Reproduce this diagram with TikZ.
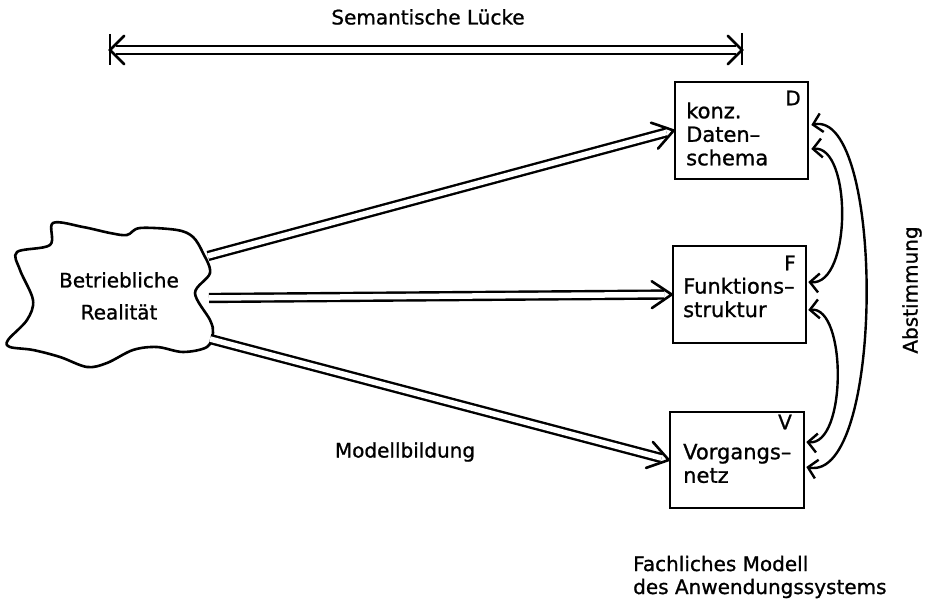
\documentclass[tikz,border=0pt]{standalone}
\usepackage{fontspec}
\setmainfont{DejaVu Sans}[BoldFont={DejaVu Sans}, BoldFeatures={FakeBold=1.0}]
\usetikzlibrary{arrows.meta,calc}
\begin{document}
\begin{tikzpicture}[x=1pt,y=1pt,
  every node/.style={font=\fontsize{20}{23}\selectfont\bfseries, inner sep=0pt},
  boxtext/.style={anchor=west, align=left, font=\fontsize{21}{23.5}\selectfont\bfseries},
  box/.style={draw, line width=2.6pt, minimum width=133pt, minimum height=97pt},
  dbl/.style={draw, line width=2.4pt, double, double distance=5.5pt},
  chev/.style={draw, line width=2.6pt, line join=miter, line cap=round},
  bidir/.style={draw, line width=2.4pt, {Straight Barb[length=9pt,width=19pt]}-{Straight Barb[length=9pt,width=19pt]}},
  outline/.style={draw, line width=2.6pt}]
\useasboundingbox (0,0) rectangle (931,601);

% title and span arrow
\node (title) at (428,584) {Semantische Lücke};
\coordinate (L) at (110,551);
\coordinate (R) at (742,551);
\draw[dbl, shorten >=6pt, shorten <=6pt] (L) -- (R);
\draw[chev] ($(L)!20pt!45:(R)$) -- (L) -- ($(L)!20pt!-45:(R)$);
\draw[chev] ($(R)!20pt!45:(L)$) -- (R) -- ($(R)!20pt!-45:(L)$);
\draw[outline] ($(L)+(0,16)$) -- ($(L)+(0,-15)$);
\draw[outline] ($(R)+(0,17)$) -- ($(R)+(0,-15)$);

% boxes
\node[box] (D) at (741.5,470.5) {};
\node[box] (F) at (739.5,306.5) {};
\node[box, minimum width=134pt, minimum height=96pt] (V) at (737,141) {};
\node[boxtext] (Dt) at (686,467) {konz.\\Daten–\\schema};
\node[boxtext] (Ft) at (683,303.5) {Funktions–\\struktur};
\node[boxtext] (Vt) at (683,137.5) {Vorgangs–\\netz};
\node (Dlab) at (793,503) {D};
\node (Flab) at (790,338) {F};
\node (Vlab) at (785,179) {V};

% cloud
\draw[outline] plot[smooth cycle, tension=0.55] coordinates {
 (17,349) (50,356) (53,378) (83,374) (110,368) (127,366) (140,373) (177,371)
 (193,364) (203,348) (210,328) (195,308) (210,281) (213,268) (207,254)
 (183,249) (157,254) (133,251) (107,238) (87,234) (60,244) (33,251)
 (10,254) (8,261) (27,281) (33,301) (20,331)};
\node[align=center, font=\fontsize{20}{32}\selectfont\bfseries] (cloud) at (119,305) {Betriebliche\\Realität};
\coordinate (c1) at (208,345);
\coordinate (c2) at (209,303);
\coordinate (c3) at (210,262);

% modelling arrows
\draw[dbl, shorten >=7.5pt] (c1) -- (D.west);
\draw[chev] ($(D.west)!24pt!34:(c1)$) -- (D.west) -- ($(D.west)!24pt!-34:(c1)$);
\draw[dbl, shorten >=7.5pt] (c2) -- (F.west);
\draw[chev] ($(F.west)!24pt!34:(c2)$) -- (F.west) -- ($(F.west)!24pt!-34:(c2)$);
\draw[dbl, shorten >=7.5pt] (c3) -- (V.west);
\draw[chev] ($(V.west)!24pt!34:(c3)$) -- (V.west) -- ($(V.west)!24pt!-34:(c3)$);
\node (mb) at (405,149) {Modellbildung};

% coordination arrows
\coordinate (Du) at ($(D.east)+(2,5.5)$);
\coordinate (Dd) at ($(D.east)+(2,-18.5)$);
\coordinate (Fu) at ($(F.east)+(1,12.5)$);
\coordinate (Fd) at ($(F.east)+(1,-15.5)$);
\coordinate (Vu) at ($(V.east)+(1,18)$);
\coordinate (Vd) at ($(V.east)+(1,-7)$);
\draw[bidir] (Du) .. controls (885,492) and (885,118) .. (Vd);
\draw[bidir] (Dd) .. controls (852,456) and (852,315) .. (Fu);
\draw[bidir] (Fd) .. controls (847,295) and (847,155) .. (Vu);
\node[rotate=90] (abst) at (912,311) {Abstimmung};

% caption
\node[anchor=west, align=left] (fm) at (633,24) {Fachliches Modell\\des Anwendungssystems};
\end{tikzpicture}
\end{document}
